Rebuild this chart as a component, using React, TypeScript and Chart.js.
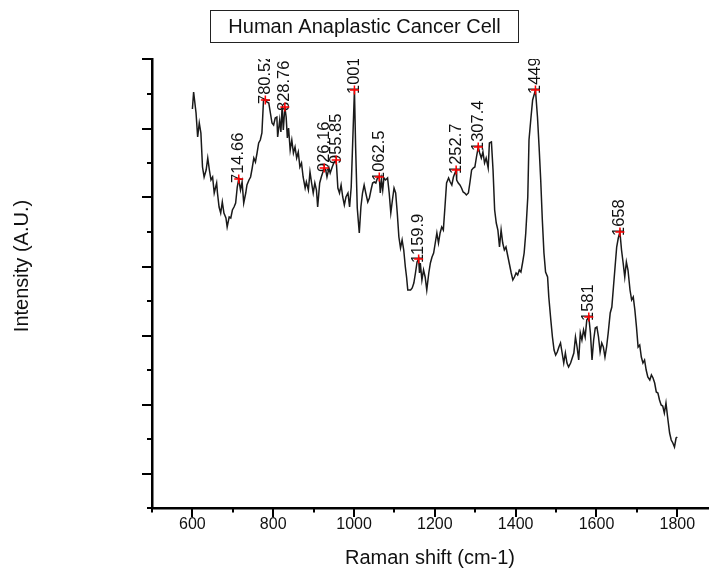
import React, { useEffect, useRef } from "react";
import { Chart, registerables } from "chart.js";

Chart.register(...registerables);

// Raman spectrum (wavenumber in cm-1, intensity in arbitrary units)
const wavenumbers = [
  600, 603, 609, 613, 617, 621, 625, 629, 634, 638, 642, 646, 650, 654, 660, 662, 666, 670, 674, 678,
  683, 686, 691, 695, 699, 703, 707, 711, 714.66, 719, 723, 727, 732, 735, 740, 744, 748, 752, 756, 760,
  764, 768, 772, 776, 780.52, 784, 789, 793, 797, 801, 805, 809, 811, 816, 819, 822, 825, 828.76, 832, 835,
  838, 842, 846, 850, 854, 858, 862, 866, 870, 874, 879, 882, 887, 891, 895, 899, 903, 907, 910, 915,
  919, 926.16, 930, 933, 938, 941, 946, 950, 955.85, 960, 964, 968, 972, 976, 980, 985, 989, 993, 1001, 1004,
  1008, 1013, 1017, 1021, 1025, 1029, 1034, 1038, 1042, 1046, 1050, 1054, 1058, 1062.5, 1065, 1068, 1071, 1074, 1078, 1083,
  1087, 1091, 1095, 1099, 1103, 1107, 1111, 1115, 1119, 1123, 1127, 1130, 1133, 1140, 1144, 1148, 1152, 1156, 1159.9, 1162,
  1164, 1168, 1172, 1176, 1180, 1185, 1189, 1193, 1197, 1201, 1205, 1209, 1213, 1217, 1221, 1225, 1229, 1234, 1238, 1242,
  1246, 1252.7, 1254, 1258, 1262, 1266, 1270, 1274, 1278, 1283, 1287, 1291, 1295, 1299, 1303, 1307.4, 1311, 1315, 1319, 1323,
  1327, 1332, 1335, 1340, 1344, 1348, 1352, 1356, 1360, 1364, 1368, 1372, 1376, 1381, 1384, 1389, 1393, 1397, 1401, 1405,
  1409, 1413, 1417, 1421, 1425, 1430, 1433, 1438, 1442, 1449, 1454, 1458, 1462, 1466, 1470, 1474, 1479, 1482, 1487, 1491,
  1495, 1499, 1503, 1507, 1511, 1515, 1519, 1523, 1527, 1531, 1536, 1540, 1544, 1548, 1552, 1556, 1560, 1564, 1568, 1572,
  1576, 1581, 1585, 1589, 1593, 1597, 1601, 1605, 1609, 1613, 1617, 1621, 1625, 1629, 1634, 1638, 1642, 1646, 1650, 1654,
  1658, 1662, 1666, 1670, 1674, 1678, 1683, 1687, 1691, 1695, 1699, 1703, 1707, 1711, 1715, 1719, 1723, 1727, 1732, 1736,
  1740, 1744, 1748, 1752, 1756, 1760, 1764, 1768, 1772, 1776, 1781, 1785, 1789, 1793, 1797, 1800,
];

const intensity = [
  399, 416, 395, 371, 385, 375, 341, 331, 338, 350, 338, 328, 331, 315, 325, 315, 301, 295, 306, 295,
  290, 281, 291, 290, 298, 301, 305, 321, 329, 318, 326, 305, 315, 323, 328, 331, 340, 350, 346, 355,
  365, 368, 375, 408, 408, 406, 405, 395, 385, 383, 390, 391, 371, 388, 376, 401, 378, 401, 391, 370,
  380, 358, 368, 355, 361, 350, 356, 341, 345, 331, 320, 326, 318, 336, 325, 315, 325, 318, 301, 325,
  331, 340, 338, 331, 340, 335, 341, 345, 348, 320, 315, 323, 311, 303, 311, 315, 301, 321, 418, 360,
  300, 275, 301, 315, 323, 315, 306, 310, 318, 325, 326, 325, 330, 331, 315, 328, 318, 330, 328, 330,
  315, 295, 308, 320, 315, 295, 271, 260, 268, 258, 241, 231, 218, 218, 220, 225, 235, 246, 249, 235,
  245, 228, 238, 231, 218, 235, 245, 251, 255, 265, 275, 265, 275, 281, 278, 301, 325, 330, 326, 323,
  331, 338, 328, 325, 323, 320, 316, 315, 313, 315, 326, 338, 340, 341, 351, 361, 355, 350, 356, 345,
  350, 340, 365, 366, 338, 298, 285, 278, 261, 278, 265, 258, 261, 251, 245, 235, 228, 231, 235, 233,
  238, 236, 245, 255, 275, 311, 368, 391, 408, 418, 391, 361, 328, 288, 255, 236, 231, 211, 188, 171,
  158, 153, 156, 161, 165, 155, 145, 155, 145, 141, 145, 150, 155, 171, 161, 148, 175, 168, 178, 171,
  188, 191, 175, 148, 168, 180, 181, 171, 156, 165, 161, 151, 161, 175, 195, 201, 221, 241, 261, 270,
  276, 258, 245, 231, 246, 238, 218, 208, 211, 198, 181, 161, 163, 151, 145, 148, 138, 131, 128, 133,
  130, 125, 116, 115, 108, 103, 102, 95, 105, 91, 75, 68, 65, 61, 70, 71,
];

// Labelled peaks
const peakPositions = [714.66, 780.52, 828.76, 926.16, 955.85, 1001, 1062.5, 1159.9, 1252.7, 1307.4, 1449, 1581, 1658];
const peakIntensity = [329, 408, 401, 340, 348, 418, 331, 249, 338, 361, 418, 191, 276];
const peakLabels = ["714.66", "780.52", "828.76", "926.16", "955.85", "1001", "1062.5", "1159.9", "1252.7", "1307.4", "1449", "1581", "1658"];

// Axes
const xTickLabels = ["600", "800", "1000", "1200", "1400", "1600", "1800"];
const xTickValues = [500, 600, 700, 800, 900, 1000, 1100, 1200, 1300, 1400, 1500, 1600, 1700, 1800];
const yTickStep = 34.5;
const yTickCount = 14;

const FONT = '"Liberation Sans", Arial, Helvetica, sans-serif';

const decorPlugin = {
  id: "decor",
  beforeDatasetsDraw(chart: any) {
    const { ctx, chartArea } = chart;
    const meta = chart.getDatasetMeta(1);
    ctx.save();
    ctx.beginPath();
    ctx.rect(chartArea.left, chartArea.top, chartArea.right - chartArea.left, chartArea.bottom - chartArea.top);
    ctx.clip();
    ctx.font = `16.5px ${FONT}`;
    ctx.fillStyle = "#111";
    ctx.textAlign = "left";
    ctx.textBaseline = "middle";
    meta.data.forEach((pt: any, i: number) => {
      ctx.save();
      ctx.translate(pt.x, pt.y + 4);
      ctx.rotate(-Math.PI / 2);
      ctx.fillText(peakLabels[i], 0, 0);
      ctx.restore();
    });
    ctx.restore();
  },
  afterDraw(chart: any) {
    const { ctx, chartArea, scales } = chart;
    const xs = scales.x;
    const ys = scales.y;
    ctx.save();
    ctx.strokeStyle = "#000";
    ctx.lineWidth = 2;
    xTickValues.forEach((v) => {
      const px = Math.round(xs.getPixelForValue(v));
      const len = xTickLabels.includes(String(v)) ? 9 : 4.5;
      ctx.beginPath();
      ctx.moveTo(px, chartArea.bottom);
      ctx.lineTo(px, chartArea.bottom + len);
      ctx.stroke();
    });
    for (let k = 0; k < yTickCount; k++) {
      const py = Math.round(ys.getPixelForValue(k * yTickStep));
      const len = k % 2 === 1 ? 10 : 5;
      ctx.beginPath();
      ctx.moveTo(chartArea.left, py);
      ctx.lineTo(chartArea.left - len, py);
      ctx.stroke();
    }
    // title box
    ctx.lineWidth = 1;
    ctx.strokeStyle = "#222";
    ctx.strokeRect(210.5, 10.5, 308, 32);
    ctx.fillStyle = "#111";
    ctx.font = `20px ${FONT}`;
    ctx.textAlign = "center";
    ctx.textBaseline = "middle";
    ctx.fillText("Human Anaplastic Cancer Cell", 364.5, 27);
    // axis titles
    ctx.fillText("Raman shift (cm-1)", (chartArea.left + chartArea.right) / 2, 558);
    ctx.save();
    ctx.translate(22, 266);
    ctx.rotate(-Math.PI / 2);
    ctx.fillText("Intensity (A.U.)", 0, 0);
    ctx.restore();
    ctx.restore();
  },
};

export default function App() {
  const ref = useRef<HTMLCanvasElement>(null);
  useEffect(() => {
    if (!ref.current) return;
    const chart = new Chart(ref.current, {
      type: "line",
      data: {
        datasets: [
          {
            label: "spectrum",
            data: wavenumbers.map((w, i) => ({ x: w, y: intensity[i] })),
            borderColor: "#1a1a1a",
            borderWidth: 1.5,
            pointRadius: 0,
            pointHitRadius: 0,
            tension: 0,
            fill: false,
            order: 1,
          },
          {
            type: "scatter",
            label: "peaks",
            data: peakPositions.map((w, i) => ({ x: w, y: peakIntensity[i] })),
            pointStyle: "cross",
            pointRadius: 4.5,
            borderColor: "#ff0000",
            backgroundColor: "#ff0000",
            borderWidth: 1.5,
            showLine: false,
            order: 0,
          } as any,
        ],
      },
      options: {
        animation: false,
        responsive: false,
        layout: { padding: { top: 59, left: 0, right: 0, bottom: 0 } },
        plugins: { legend: { display: false }, tooltip: { enabled: false } },
        scales: {
          x: {
            type: "linear",
            min: 500,
            max: 1876,
            afterFit: (s: any) => {
              s.height = 66;
            },
            grid: { display: false, drawTicks: false },
            border: { display: true, color: "#000", width: 2.5 },
            ticks: {
              stepSize: 100,
              includeBounds: false,
              autoSkip: false,
              maxRotation: 0,
              padding: 7,
              color: "#111",
              font: { family: FONT, size: 16 },
              callback: (v: any) => (xTickLabels.includes(String(v)) ? String(v) : ""),
            },
          },
          y: {
            type: "linear",
            min: 0,
            max: 449,
            afterFit: (s: any) => {
              s.width = 152;
            },
            grid: { display: false, drawTicks: false },
            border: { display: true, color: "#000", width: 2.5 },
            ticks: { display: false },
          },
        },
      },
      plugins: [decorPlugin],
    } as any);
    return () => chart.destroy();
  }, []);
  return (
    <div style={{ position: "absolute", left: 0, top: 0, width: 714, height: 574, background: "#fff" }}>
      <canvas ref={ref} width={714} height={574} style={{ display: "block" }} />
    </div>
  );
}
